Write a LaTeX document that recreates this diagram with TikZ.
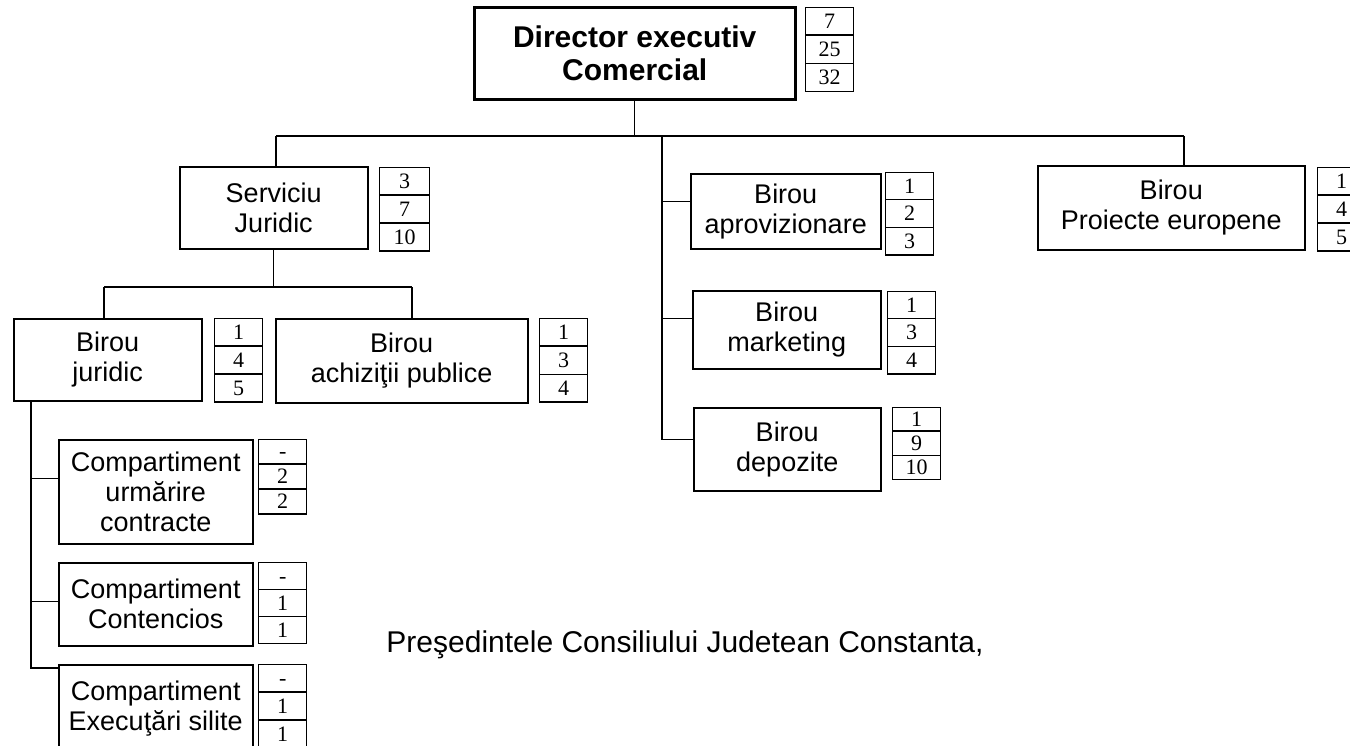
\documentclass[tikz,border=0pt]{standalone}
\usepackage{fontspec}
\setmainfont{Liberation Serif}
\newfontfamily\arial{Liberation Sans}
\usetikzlibrary{shapes.multipart}

\begin{document}
\begin{tikzpicture}[x=1pt, y=-1pt, line join=miter,
    unit/.style={draw, line width=1.5pt, inner sep=0pt, anchor=north west, align=center,
      font=\arial\fontsize{27}{30}\selectfont},
    nr/.style={draw, line width=1.4pt, rectangle split, rectangle split parts=3,
      anchor=north west, minimum width=48pt, inner xsep=0pt, inner ysep=6pt,
      text height=14pt, text depth=0pt, font=\fontsize{22}{22}\selectfont},
    link/.style={line width=1.4pt}]

  \useasboundingbox (0,0) rectangle (1350,745);
  \clip (0,0) rectangle (1350,745);

  % --- Conducere ---
  \node[unit, line width=2.5pt, minimum width=321pt, minimum height=92pt,
    font=\arial\bfseries\fontsize{30}{33}\selectfont] (dir) at (473,6) {Director executiv\\Comercial};
  \node[nr] (dirnr) at (805,7) {7\nodepart{two}25\nodepart{three}32};

  % --- Nivel 2 ---
  \node[unit, minimum width=188pt, minimum height=82pt] (serv) at (179,166) {Serviciu\\Juridic};
  \node[nr, minimum width=50pt] (servnr) at (379,167) {3\nodepart{two}7\nodepart{three}10};

  \node[unit, minimum width=267pt, minimum height=84pt] (proi) at (1037,165) {Birou\\Proiecte europene};
  \node[nr] (proinr) at (1317,167) {1\nodepart{two}4\nodepart{three}5};

  % --- Coloana din mijloc ---
  \node[unit, minimum width=190pt, minimum height=75pt] (aprov) at (690,173) {Birou\\aprovizionare};
  \node[nr, inner ysep=5.8pt] (aprovnr) at (885,172) {1\nodepart{two}2\nodepart{three}3};

  \node[unit, minimum width=188pt, minimum height=78pt] (market) at (692,290) {Birou\\marketing};
  \node[nr, inner ysep=5.8pt] (marketnr) at (887,291) {1\nodepart{two}3\nodepart{three}4};

  \node[unit, minimum width=187pt, minimum height=83pt] (depoz) at (693,407) {Birou\\depozite};
  \node[nr, inner ysep=4pt] (depoznr) at (892,407) {1\nodepart{two}9\nodepart{three}10};

  % --- Sub Serviciul Juridic ---
  \node[unit, minimum width=188pt, minimum height=82pt] (jur) at (13,318) {Birou\\juridic};
  \node[nr] (jurnr) at (214,318) {1\nodepart{two}4\nodepart{three}5};

  \node[unit, minimum width=252pt, minimum height=84pt] (achiz) at (275,318) {Birou\\achiziţii publice};
  \node[nr] (achiznr) at (539,318) {1\nodepart{two}3\nodepart{three}4};

  % --- Compartimente ---
  \node[unit, minimum width=194pt, minimum height=104pt] (comp1) at (58,439) {Compartiment\\urmărire\\contracte};
  \node[nr, inner ysep=4.5pt] (comp1nr) at (258,439) {-\nodepart{two}2\nodepart{three}2};

  \node[unit, minimum width=194pt, minimum height=83pt] (comp2) at (58,562) {Compartiment\\Contencios};
  \node[nr, inner ysep=5.6pt] (comp2nr) at (258,562) {-\nodepart{two}1\nodepart{three}1};

  \node[unit, minimum width=194pt, minimum height=88pt] (comp3) at (58,664) {Compartiment\\Execuţări silite};
  \node[nr] (comp3nr) at (258,664) {-\nodepart{two}1\nodepart{three}1};

  \node[font=\arial\fontsize{30}{33}\selectfont] (semn) at (685,645) {Preşedintele Consiliului Judetean Constanta,};

  % --- Legaturi ---
  \coordinate (busL) at (276,136);
  \coordinate (busR) at (1184,136);
  \coordinate (spine) at (662,136);
  \draw[link] (dir.south) -- (dir.south |- busL);
  \draw[link] (busL) -- (busR);
  \draw[link] (busL) -- (busL |- serv.north);
  \draw[link] (busR) -- (busR |- proi.north);

  \path ([yshift=10pt]aprov.west) coordinate (a1)
        ([yshift=11pt]market.west) coordinate (a2)
        ([yshift=10pt]depoz.west) coordinate (a3);
  \draw[link] (spine) |- (a3);
  \draw[link] (spine |- a1) -- (a1);
  \draw[link] (spine |- a2) -- (a2);

  \coordinate (subL) at (104,287);
  \coordinate (subR) at (412,287);
  \draw[link] (serv.south) -- (serv.south |- subL);
  \draw[link] (subL) -- (subR);
  \draw[link] (subL) -- (subL |- jur.north);
  \draw[link] (subR) -- (subR |- achiz.north);

  \path ([xshift=18pt]jur.south west) coordinate (jd)
        ([yshift=13pt]comp1.west) coordinate (c1)
        ([yshift=3pt]comp2.west) coordinate (c2)
        ([yshift=-4pt]comp3.north west) coordinate (c3);
  \draw[link] (jd) |- (c3);
  \draw[link] (jd |- c1) -- (c1);
  \draw[link] (jd |- c2) -- (c2);

\end{tikzpicture}
\end{document}
